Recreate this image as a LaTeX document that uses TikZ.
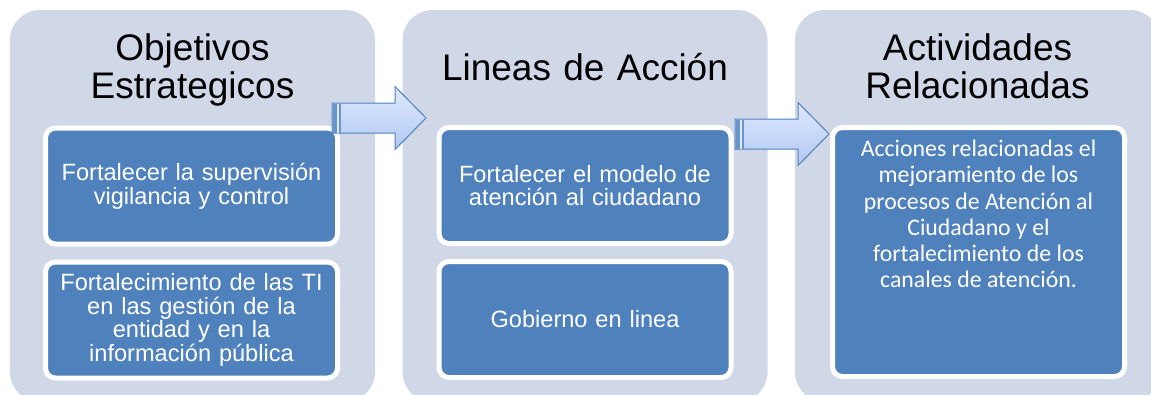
\documentclass[tikz,border=0pt]{standalone}
\usepackage{fontspec}
\setmainfont{Liberation Sans}
\newfontfamily\calibri{Carlito}
\usepackage{xcolor}
\definecolor{panelgris}{HTML}{D0D8E8}
\definecolor{cajaazul}{HTML}{4F81BD}
\definecolor{flechaclara}{HTML}{DDE8FC}
\definecolor{flechaoscura}{HTML}{B2C9F4}
\usepackage{tikz}
\usetikzlibrary{positioning}

\begin{document}
\begin{tikzpicture}[x=1pt,y=-1pt,node distance=13pt]
            \tikzstyle{panel}=[fill=panelgris,rounded corners=30pt,minimum width=365pt,minimum height=392pt,inner sep=0pt]
            \tikzstyle{titulo}=[font=\fontsize{37}{38.5}\selectfont,text width=350pt,align=center,anchor=base]
            \tikzstyle{caja}=[fill=cajaazul,draw=white,line width=5pt,rounded corners=10pt,minimum width=292pt,minimum height=116pt,text width=286pt,inner sep=1pt,align=center,text=white,font=\fontsize{23.6}{23.6}\selectfont]
            \tikzstyle{texto}=[text=white,align=center,inner sep=0pt,font=\calibri\fontsize{23.8}{26.2}\selectfont]
            \tikzstyle{flecha}=[draw=cajaazul,line width=1pt,top color=flechaclara,bottom color=flechaoscura,line join=miter]

            \clip (0,0) rectangle (1151,394);

            % paneles
            \node[panel] (O) at (192.5,206) {};
            \node[panel] (L) at (585,206)   {};
            \node[panel] (R) at (977.5,206) {};

            \node[titulo] (Ot) at (192.5,60) {Objetivos\\Estrategicos};
            \node[titulo] (Lt) at (585,80)   {Lineas de Acción};
            \node[titulo] (Rt) at (977.5,60) {Actividades\\Relacionadas};

            % cajas
            \node[caja] (O1) at (191.5,186)             {Fortalecer la supervisión\\vigilancia y control};
            \node[caja] (O2) [below=of O1]              {Fortalecimiento de las TI\\en las gestión de la\\entidad y en la\\información pública};
            \node[caja] (L1) at (585,185.5)             {Fortalecer el modelo de\\atención al ciudadano};
            \node[caja] (L2) [below=of L1]              {Gobierno en linea};
            \node[caja,minimum height=249pt] (R1) at (978.5,252) {};
            \node[texto,anchor=north] (R1t) [below=15pt of R1.north] {Acciones relacionadas el\\mejoramiento de los\\procesos de Atención al\\Ciudadano y el\\fortalecimiento de los\\canales de atención.};

            % flechas
            \foreach \x/\y in {332/118,735/134} {
                \path[flecha] (\x,\y-15) -- ++(63,0) -- ++(0,-16.5) -- ++(31,31.5)
                    -- ++(-31,31.5) -- ++(0,-16.5) -- ++(-63,0) -- cycle;
                \fill[cajaazul!85] (\x+0.5,\y-14.5) rectangle ++(8.5,29);
                \draw[flechaclara,line width=1.2pt] (\x+6,\y-14.5) -- ++(0,29);
            }
        \end{tikzpicture}
\end{document}
